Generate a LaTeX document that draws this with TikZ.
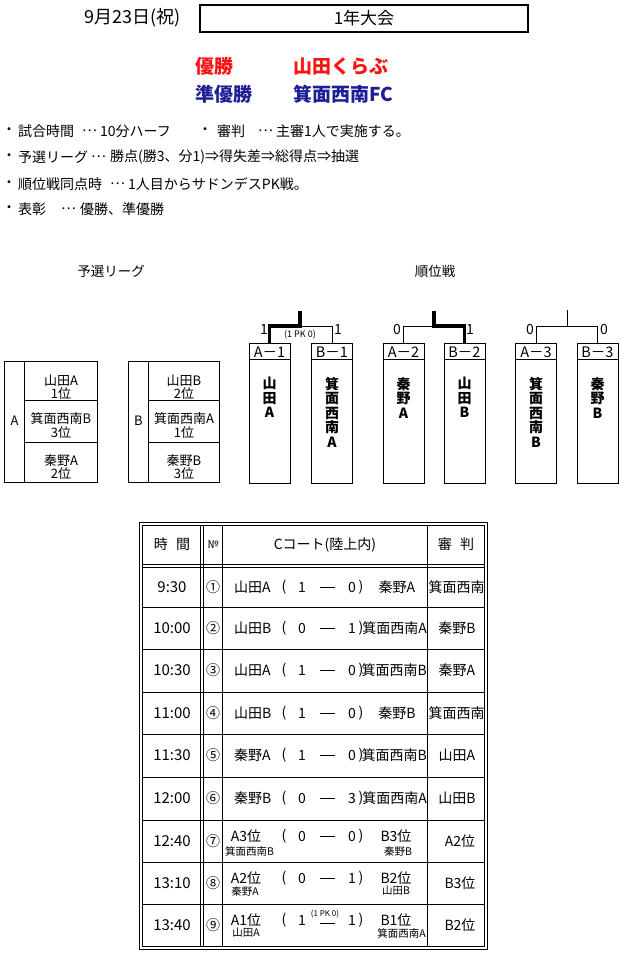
\documentclass[tikz,border=0pt]{standalone}
\usepackage{fontspec}
\setmainfont{Noto Sans CJK JP}
\definecolor{winred}{RGB}{250,20,20}
\definecolor{runblue}{RGB}{30,30,150}
\newcommand{\scdash}{\rule{15pt}{0.9pt}}
\begin{document}
\begin{tikzpicture}[x=1pt,y=-1pt,
  tx/.style={inner sep=0pt, font=\fontsize{14}{14}\selectfont},
  tm/.style={inner sep=0pt, font=\fontsize{15}{15}\selectfont},
  sm/.style={inner sep=0pt, font=\fontsize{10.5}{10.5}\selectfont},
  bul/.style={inner sep=0pt, anchor=west, font=\fontsize{14}{14}\selectfont},
  lg/.style={inner sep=0pt, font=\fontsize{13}{13}\selectfont},
  ln/.style={line width=1pt},
  heavy/.style={line width=3.5pt},
  bbox/.style={draw, line width=1pt, minimum width=41pt, minimum height=140pt, inner sep=0pt},
  vname/.style={inner sep=0pt, anchor=north, align=center, font=\fontsize{14}{14.5}\selectfont\bfseries},
  big/.style={inner sep=0pt, anchor=west, font=\fontsize{19}{19}\selectfont\bfseries},
  dsh/.style={inner sep=0pt},
]
\useasboundingbox (0,0) rectangle (622,954);
\fill[white] (0,0) rectangle (622,954);

% ---------- header ----------
\node[tx, font=\fontsize{18}{18}\selectfont] (date) at (133,18) {9月23日(祝)};
\node[draw, line width=2pt, minimum width=328pt, minimum height=27pt, inner sep=0pt,
      font=\fontsize{17}{17}\selectfont] (title) at (364,18) {1年大会};

\node[big, text=winred] (win) at (195,66) {優勝};
\node[big, text=winred] (winteam) at (293,66) {山田くらぶ};
\node[big, text=runblue] (run) at (195,94) {準優勝};
\node[big, text=runblue] (runteam) at (293,94) {箕面西南FC};

% ---------- bullets ----------
\node[bul] (d1) at (2,131) {・};
\node[bul] (b1a) at (18,131) {試合時間};
\node[bul] (b1b) at (82,131) {…};
\node[bul] (b1c) at (100,131) {10分ハーフ};
\node[bul] (d1b) at (198,131) {・};
\node[bul] (b1d) at (217,131) {審判};
\node[bul] (b1e) at (258,131) {…};
\node[bul] (b1f) at (276,131) {主審1人で実施する。};

\node[bul] (d2) at (2,157) {・};
\node[bul] (b2a) at (18,157) {予選リーグ};
\node[bul] (b2b) at (91,157) {…};
\node[bul] (b2c) at (110,157) {勝点(勝3、分1)⇒得失差⇒総得点⇒抽選};

\node[bul] (d3) at (2,184) {・};
\node[bul] (b3a) at (18,184) {順位戦同点時};
\node[bul] (b3b) at (110,184) {…};
\node[bul] (b3c) at (128,184) {1人目からサドンデスPK戦。};

\node[bul] (d4) at (2,209) {・};
\node[bul] (b4a) at (18,209) {表彰};
\node[bul] (b4b) at (61,209) {…};
\node[bul] (b4c) at (80,209) {優勝、準優勝};

% ---------- section titles ----------
\node[tx, font=\fontsize{13.5}{13.5}\selectfont] (sec1) at (111,271) {予選リーグ};
\node[tx, font=\fontsize{13.5}{13.5}\selectfont] (sec2) at (435,271) {順位戦};

% ---------- league boxes ----------
\draw[ln] (4.5,361.5) rectangle (97.5,482.5);
\draw[ln] (24.5,361.5) -- (24.5,482.5);
\draw[ln] (24.5,400.5) -- (97.5,400.5);
\draw[ln] (24.5,442.5) -- (97.5,442.5);
\node[lg] (LA) at (14.5,421) {A};
\node[lg] (LAn1) at (61,380.5) {山田A};
\node[lg] (LAr1) at (61,393.5) {1位};
\node[lg] (LAn2) at (61,419) {箕面西南B};
\node[lg] (LAr2) at (61,432.5) {3位};
\node[lg] (LAn3) at (61,460.5) {秦野A};
\node[lg] (LAr3) at (61,474) {2位};

\draw[ln] (128.5,361.5) rectangle (219.5,482.5);
\draw[ln] (148.5,361.5) -- (148.5,482.5);
\draw[ln] (148.5,400.5) -- (219.5,400.5);
\draw[ln] (148.5,442.5) -- (219.5,442.5);
\node[lg] (LB) at (138.5,421) {B};
\node[lg] (LBn1) at (184,380.5) {山田B};
\node[lg] (LBr1) at (184,393.5) {2位};
\node[lg] (LBn2) at (184,419) {箕面西南A};
\node[lg] (LBr2) at (184,432.5) {1位};
\node[lg] (LBn3) at (184,460.5) {秦野B};
\node[lg] (LBr3) at (184,474) {3位};

% ---------- bracket boxes ----------
\foreach \n/\x/\lab in {A1/269.5/A－1, B1/332/B－1, A2/403.5/A－2, B2/464.5/B－2, A3/536/A－3, B3/597.5/B－3}{
  \node[bbox] (\n) at (\x,413) {};
  \draw[ln] ([yshift=-17pt]\n.north west) -- ([yshift=-17pt]\n.north east);
  \node[tx, font=\fontsize{14.5}{14.5}\selectfont] (\n lab) at (\x,352) {\lab};
}
\node[vname] (A1n) at (269.5,377) {山\\田\\A};
\node[vname] (B1n) at (332,377) {箕\\面\\西\\南\\A};
\node[vname] (A2n) at (403.5,377) {秦\\野\\A};
\node[vname] (B2n) at (464.5,377) {山\\田\\B};
\node[vname] (A3n) at (536,377) {箕\\面\\西\\南\\B};
\node[vname] (B3n) at (597.5,377) {秦\\野\\B};

% bracket 1 (A-1 wins on PK)
\coordinate (m1) at (300,326);
\coordinate (t1) at (300,311);
\draw[ln] (B1.north) |- (m1);
\draw[heavy] (A1.north) |- (m1) -- (t1);
\node[tx] (s1a) at (264,330) {1};
\node[tx] (s1b) at (338,330) {1};
\node[inner sep=0pt, font=\fontsize{9}{9}\selectfont] (pk1) at (300,335) {(1 PK 0)};

% bracket 2 (B-2 wins)
\coordinate (m2) at (434,326);
\coordinate (t2) at (434,311);
\draw[ln] (A2.north) |- (m2);
\draw[heavy] (B2.north) |- (m2) -- (t2);
\node[tx] (s2a) at (397,330) {0};
\node[tx] (s2b) at (470,330) {1};

% bracket 3 (draw)
\coordinate (m3) at (567,326.5);
\coordinate (t3) at (567,310);
\draw[ln] (A3.north) |- (m3);
\draw[ln] (B3.north) |- (m3) -- (t3);
\node[tx] (s3a) at (530,330) {0};
\node[tx] (s3b) at (604,330) {0};

% ---------- schedule table ----------
\draw[ln] (139.5,522.5) rectangle (487.5,949.5);
\draw[ln] (142.5,525.5) rectangle (484.5,946.5);
\draw[ln] (200.5,525.5) -- (200.5,946.5);
\draw[ln] (203.5,525.5) -- (203.5,946.5);
\draw[ln] (222.5,525.5) -- (222.5,946.5);
\draw[ln] (427.5,525.5) -- (427.5,946.5);
\draw[ln] (142.5,564.5) -- (484.5,564.5);
\draw[ln] (142.5,567.5) -- (484.5,567.5);
\foreach \yy in {607.5,649.5,692.5,734.5,777.5,820.5,862.5,904.5}{
  \draw[ln] (142.5,\yy) -- (484.5,\yy);
}
% header
\node[tx] (h1) at (172,544.5) {時\hspace{0.6em}間};
\node[inner sep=0pt, font=\fontsize{11}{11}\selectfont] (h2) at (213,544.5) {№};
\node[tx] (h3) at (325,544.5) {Cコート(陸上内)};
\node[tx] (h4) at (456,544.5) {審\hspace{0.6em}判};

% rows 1-6
\foreach \r/\yy/\tt/\no/\ta/\sa/\sb/\rf in {
  1/587/9:30/①/山田A/1/0/,
  2/628/10:00/②/山田B/0/1/秦野B,
  3/670.5/10:30/③/山田A/1/0/秦野A,
  4/713/11:00/④/山田B/1/0/,
  5/755.5/11:30/⑤/秦野A/1/0/山田A,
  6/798.5/12:00/⑥/秦野B/0/3/山田B}{
  \node[tm] (tm\r) at (172,\yy) {\tt};
  \node[tx] (no\r) at (213,\yy) {\no};
  \node[tx, anchor=west] (ta\r) at (234,\yy) {\ta};
  \node[tx] (pl\r) at (284,\yy) {(};
  \node[tx] (sa\r) at (302,\yy) {\sa};
  \node[dsh] (da\r) at (327,\yy) {\scdash};
  \node[tx] (sb\r) at (352,\yy) {\sb};
  \node[tx] (pr\r) at (361,\yy) {)};
  \node[tx] (rf\r) at (457,\yy) {\rf};
}
\node[tx] (tb1) at (397,587) {秦野A};
\node[tx, anchor=east] (tb2) at (427,628) {箕面西南A};
\node[tx, anchor=east] (tb3) at (427,670.5) {箕面西南B};
\node[tx] (tb4) at (397,713) {秦野B};
\node[tx, anchor=east] (tb5) at (427,755.5) {箕面西南B};
\node[tx, anchor=east] (tb6) at (427,798.5) {箕面西南A};
\begin{scope}
  \clip (428,567) rectangle (484,734);
  \node[tx, anchor=west] (rfx1) at (428.5,587) {箕面西南B};
  \node[tx, anchor=west] (rfx4) at (428.5,713) {箕面西南A};
\end{scope}

% rows 7-9
\foreach \r/\yy/\tt/\no/\ta/\sa/\sb/\tb/\rf in {
  7/841/12:40/⑦/A3位/0/0/B3位/A2位,
  8/883/13:10/⑧/A2位/0/1/B2位/B3位,
  9/925/13:40/⑨/A1位/1/1/B1位/B2位}{
  \node[tm] (tm\r) at (172,\yy) {\tt};
  \node[tx] (no\r) at (213,\yy) {\no};
  \node[tx] (ta\r) at (246,\yy-4.5) {\ta};
  \node[tx] (pl\r) at (284,\yy-4.5) {(};
  \node[tx] (sa\r) at (302,\yy-4.5) {\sa};
  \node[tx] (sb\r) at (352,\yy-4.5) {\sb};
  \node[tx] (pr\r) at (361,\yy-4.5) {)};
  \node[tx] (tb\r) at (396,\yy-4.5) {\tb};
  \node[tx] (rf\r) at (460,\yy) {\rf};
}
\node[dsh] (da7) at (327,836.5) {\scdash};
\node[dsh] (da8) at (327,878.5) {\scdash};
\node[dsh] (da9) at (327,923) {\scdash};
\node[inner sep=0pt, font=\fontsize{8}{8}\selectfont] (pk9) at (325,914) {(1 PK 0)};
\node[sm, anchor=west] (na7) at (225,851) {箕面西南B};
\node[sm] (nb7) at (398,851) {秦野B};
\node[sm] (na8) at (245,891) {秦野A};
\node[sm] (nb8) at (396,891) {山田B};
\node[sm] (na9) at (246,933) {山田A};
\node[sm, anchor=east] (nb9) at (426,933) {箕面西南A};
\end{tikzpicture}
\end{document}
